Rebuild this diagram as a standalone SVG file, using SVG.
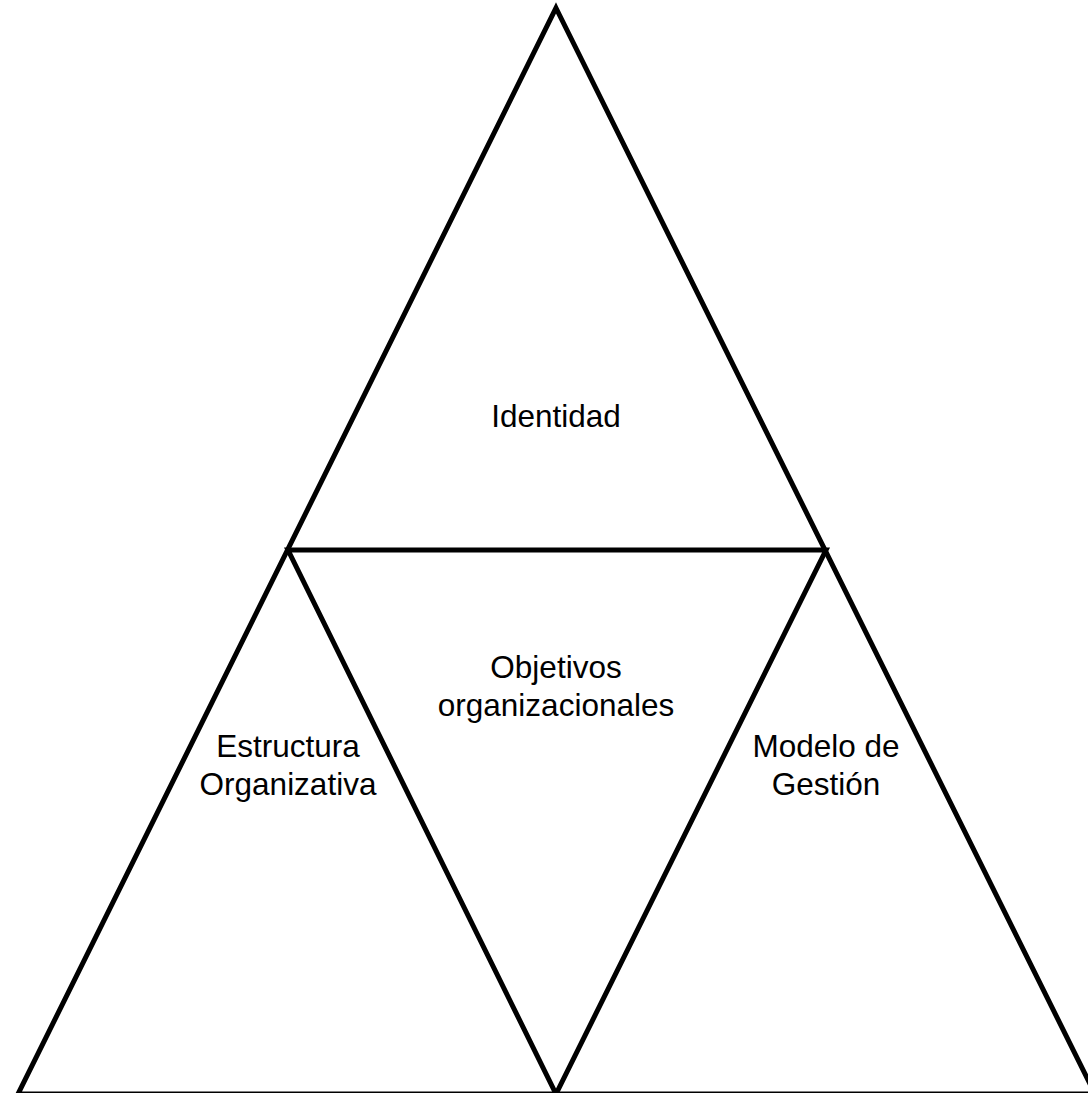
<svg xmlns="http://www.w3.org/2000/svg" width="1088" height="1093" viewBox="0 0 1088 1093">
<style>
.tri{fill:none;stroke:#000;stroke-width:5;stroke-linejoin:miter}
.lbl{font-family:"Liberation Sans",Arial,sans-serif;font-size:31.5px;fill:#000;text-anchor:middle}
</style>
<rect width="1088" height="1093" fill="#fff"/>
<g id="connectors">
<path class="tri" d="M556,8 L1095,1094 L18,1094 Z"/>
<path class="tri" d="M288,550 L826,550 L556,1094 Z"/>
</g>
<g id="identidad"><text class="lbl" x="556" y="427">Identidad</text></g>
<g id="objetivos"><text class="lbl" x="556" y="678">Objetivos</text><text class="lbl" x="556" y="716">organizacionales</text></g>
<g id="estructura"><text class="lbl" x="288" y="757">Estructura</text><text class="lbl" x="288" y="795">Organizativa</text></g>
<g id="modelo"><text class="lbl" x="826" y="757">Modelo de</text><text class="lbl" x="826" y="795">Gestión</text></g>
</svg>
